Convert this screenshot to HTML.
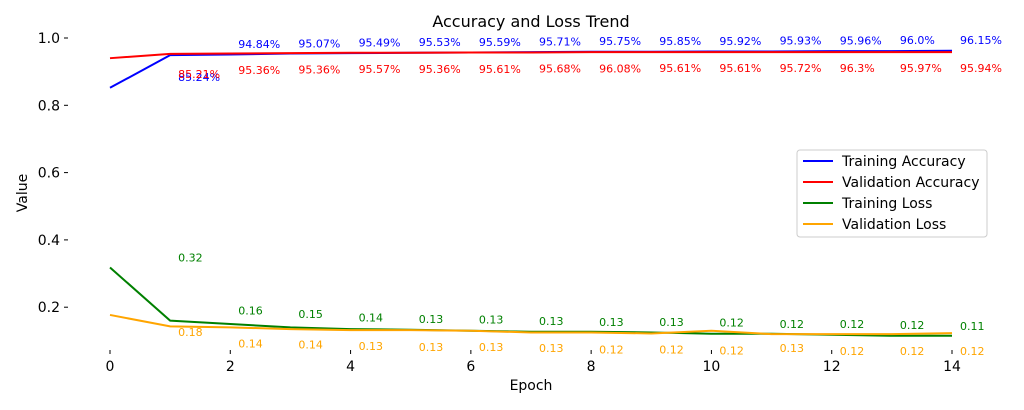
<!DOCTYPE html>
<html><head><meta charset="utf-8"><style>
html,body{margin:0;padding:0;background:#fff;width:1024px;height:410px;overflow:hidden}
svg text{font-family:"DejaVu Sans","Liberation Sans",sans-serif}
</style></head><body>
<svg id="chart" width="1024" height="410" xmlns="http://www.w3.org/2000/svg">
<text x="531" y="27" text-anchor="middle" font-size="16">Accuracy and Loss Trend</text>
<text x="531" y="390" text-anchor="middle" font-size="14">Epoch</text>
<text x="27" y="193" text-anchor="middle" font-size="14" transform="rotate(-90 27 193)">Value</text>
<g id="axes"></g><g id="lines"></g><g id="labels"></g>
<g>
<rect x="797" y="150" width="190" height="87" rx="3" fill="#fff" stroke="#ccc" stroke-width="1"/>
<g id="legend-items"></g>
</g>
</svg>
<script>
const epochs=[0,1,2,3,4,5,6,7,8,9,10,11,12,13,14];
const trainAcc=[0.852,0.949,0.951,0.954,0.955,0.956,0.957,0.958,0.959,0.959,0.960,0.960,0.961,0.961,0.962];
const valAcc=[0.940,0.953,0.954,0.955,0.956,0.956,0.957,0.957,0.958,0.958,0.958,0.958,0.958,0.958,0.958];
const trainLoss=[0.318,0.160,0.150,0.140,0.135,0.133,0.130,0.127,0.127,0.125,0.121,0.121,0.118,0.115,0.115];
const valLoss=[0.177,0.143,0.140,0.135,0.132,0.132,0.130,0.125,0.125,0.122,0.130,0.120,0.120,0.120,0.123];
const trainAccLabels=["85.24%","94.84%","95.07%","95.49%","95.53%","95.59%","95.71%","95.75%","95.85%","95.92%","95.93%","95.96%","96.0%","96.15%"];
const valAccLabels=["85.21%","95.36%","95.36%","95.57%","95.36%","95.61%","95.68%","96.08%","95.61%","95.61%","95.72%","96.3%","95.97%","95.94%"];
const trainLossLabels=["0.32","0.16","0.15","0.14","0.13","0.13","0.13","0.13","0.13","0.12","0.12","0.12","0.12","0.11"];
const valLossLabels=["0.18","0.14","0.14","0.13","0.13","0.13","0.13","0.12","0.12","0.12","0.13","0.12","0.12","0.12"];
const xTicks=[0,2,4,6,8,10,12,14];
const yTicks=[0.2,0.4,0.6,0.8,1.0];
const NS="http://www.w3.org/2000/svg";
const X=e=>110+e*(952-110)/14;
const Y=v=>38+(1-v)*336.5;
function mk(tag,attrs,parent){const el=document.createElementNS(NS,tag);for(const k in attrs)el.setAttribute(k,attrs[k]);parent.appendChild(el);return el;}
const axes=document.getElementById('axes'),lines=document.getElementById('lines'),labels=document.getElementById('labels');
xTicks.forEach(t=>{
 const tk=mk('line',{x1:X(t),x2:X(t),y1:350,y2:354,stroke:'#000'},axes);
 
 
 const tx=mk('text',{x:X(t),y:371,'text-anchor':'middle','font-size':'14'},axes);tx.textContent=t;
 
 
});
yTicks.forEach(t=>{
 const tk=mk('line',{x1:64,x2:68,y1:Y(t),y2:Y(t),stroke:'#000'},axes);
 
 
 const tx=mk('text',{x:60,y:Y(t)+5,'text-anchor':'end','font-size':'14'},axes);tx.textContent=t.toFixed(1);
 
 
});
const series=[
 {d:trainAcc,c:'#0000ff',n:'training-accuracy-line',lab:'Training Accuracy'},
 {d:valAcc,c:'#ff0000',n:'validation-accuracy-line',lab:'Validation Accuracy'},
 {d:trainLoss,c:'#008000',n:'training-loss-line',lab:'Training Loss'},
 {d:valLoss,c:'#ffa500',n:'validation-loss-line',lab:'Validation Loss'}];
series.forEach((s,i)=>{
 const p=mk('polyline',{points:s.d.map((v,j)=>X(epochs[j])+','+Y(v)).join(' '),fill:'none',stroke:s.c,'stroke-width':2},lines);
 
 
 const lg=document.getElementById('legend-items');
 const ly=161+i*21;
 const ll=mk('line',{x1:803,x2:833,y1:ly,y2:ly,stroke:s.c,'stroke-width':2},lg);
 
 
 const lt=mk('text',{x:842,y:ly+5,'font-size':'14'},lg);lt.textContent=s.lab;
 
 
});
function addLabels(arr,data,color,off){
 arr.forEach((t,k)=>{
  const tx=mk('text',{x:X(k+1)+8,y:Y(data[k])+off,'font-size':'11',fill:color},labels);
  tx.textContent=t;
  
  
 });
}
addLabels(trainAccLabels,trainAcc,'#0000ff',-7);
addLabels(valAccLabels,valAcc,'#ff0000',20);
addLabels(trainLossLabels,trainLoss,'#008000',-6);
addLabels(valLossLabels,valLoss,'#ffa500',21);
</script>
</body></html>
